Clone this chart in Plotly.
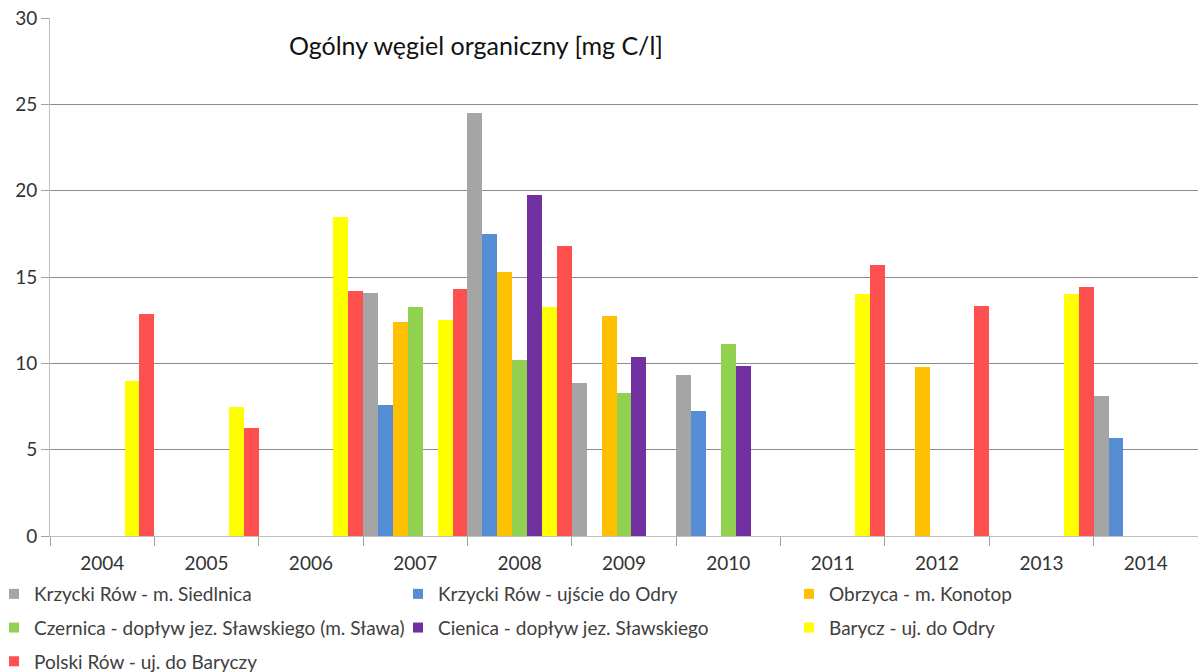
import plotly.graph_objects as go

years = ["2004", "2005", "2006", "2007", "2008", "2009", "2010", "2011", "2012", "2013", "2014"]

krzycki_siedlnica = [None, None, None, 14.1, 24.5, 8.85, 9.3, None, None, None, 8.1]
krzycki_ujscie = [None, None, None, 7.6, 17.5, None, 7.25, None, None, None, 5.65]
obrzyca = [None, None, None, 12.4, 15.3, 12.75, None, None, 9.8, None, None]
czernica = [None, None, None, 13.25, 10.2, 8.3, 11.1, None, None, None, None]
cienica = [None, None, None, None, 19.75, 10.35, 9.85, None, None, None, None]
barycz = [9.0, 7.45, 18.5, 12.5, 13.25, None, None, 14.0, None, 14.0, None]
polski_row = [12.85, 6.25, 14.2, 14.3, 16.8, None, None, 15.7, 13.3, 14.4, None]

series = [
    ("Krzycki Rów - m. Siedlnica", krzycki_siedlnica, "#A5A5A5", "legend"),
    ("Krzycki Rów - ujście do Odry", krzycki_ujscie, "#558ED5", "legend2"),
    ("Obrzyca - m. Konotop", obrzyca, "#FFC000", "legend3"),
    ("Czernica - dopływ jez. Sławskiego (m. Sława)", czernica, "#92D050", "legend"),
    ("Cienica - dopływ jez. Sławskiego", cienica, "#7030A0", "legend2"),
    ("Barycz - uj. do Odry", barycz, "#FFFF00", "legend3"),
    ("Polski Rów - uj. do Baryczy", polski_row, "#FF5050", "legend"),
]

title_text = "Ogólny węgiel organiczny [mg C/l]"

FONT = "Lato, 'Open Sans', sans-serif"
OFF = 0  # page body margin removed via post_script
W, H = 1198 - OFF, 672 - OFF
L, R, T, B = 50 - OFF, 0, 18 - OFF, 672 - 536
pw = W - L - R
ph = H - T - B

fig = go.Figure()
for name, vals, col, lg in series:
    fig.add_trace(go.Bar(
        x=years, y=vals, name=name, marker_color=col,
        marker_line_width=0, showlegend=False, legendgroup=name,
    ))
for name, vals, col, lg in series:
    fig.add_trace(go.Scatter(
        x=[None], y=[None], mode="markers", name=name, legend=lg, legendgroup=name,
        marker=dict(symbol="square", size=10, color=col, line=dict(width=0)),
        showlegend=True, hoverinfo="skip",
    ))


def px_x(x):  # page pixel -> paper coordinate
    return (x - OFF - L) / pw


def px_y(y):
    return (H - B - (y - OFF)) / ph


legend_common = dict(
    orientation="v", font=dict(family=FONT, size=19, color="#404040"),
    bgcolor="rgba(0,0,0,0)", itemwidth=30, tracegroupgap=6,
    xanchor="left", yanchor="top", traceorder="grouped", itemsizing="trace",
)

LEG_TOP = 575
fig.update_layout(
    width=W, height=H,
    margin=dict(l=L, r=R, t=T, b=B, pad=0, autoexpand=False),
    paper_bgcolor="white", plot_bgcolor="white",
    barmode="group", bargap=0, bargroupgap=0,
    font=dict(family=FONT, size=19, color="#404040"),
    showlegend=True,
    legend=dict(x=px_x(-6), y=px_y(LEG_TOP), **legend_common),
    legend2=dict(x=px_x(398), y=px_y(LEG_TOP), **legend_common),
    legend3=dict(x=px_x(789), y=px_y(LEG_TOP), **legend_common),
    xaxis=dict(
        type="category", showgrid=False, showline=True, linecolor="#BFBFBF", linewidth=1,
        ticks="outside", tickson="boundaries", ticklen=9, tickcolor="#A0A0A0",
        tickfont=dict(family=FONT, size=19, color="#333333"), ticklabelstandoff=10,
        range=[-0.5, 10.5],
    ),
    yaxis=dict(
        range=[0, 30], dtick=5, showgrid=True, gridcolor="#8C8C8C", gridwidth=1,
        showline=True, linecolor="#BFBFBF", linewidth=1, zeroline=False,
        ticks="outside", ticklen=8, tickcolor="#A0A0A0", ticklabeloverflow="allow",
        tickfont=dict(family=FONT, size=19, color="#333333"), ticklabelstandoff=0,
    ),
    annotations=[dict(
        text=title_text, xref="paper", yref="paper",
        x=px_x(287), y=px_y(45), xanchor="left", yanchor="middle",
        showarrow=False, font=dict(family=FONT, size=25, color="#111111"),
    )],
)

fig.write_html(
    "out.html",
    config={"displayModeBar": False},
    post_script="document.body.style.margin='0';",
)
